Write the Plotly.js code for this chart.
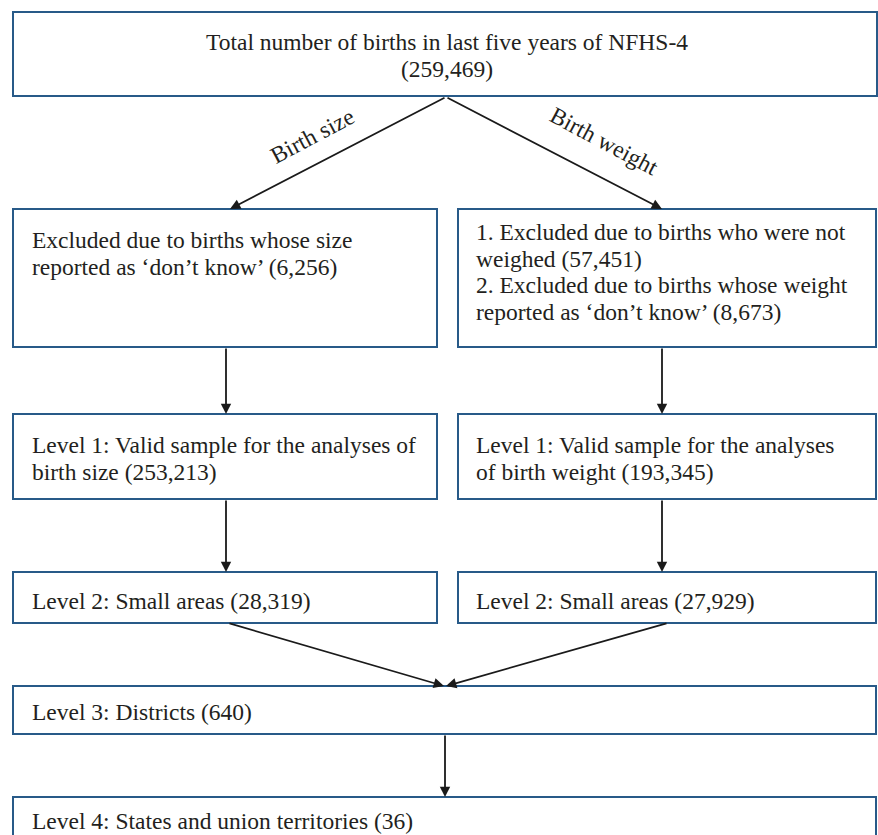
<!DOCTYPE html>
<html>
<head>
<meta charset="utf-8">
<script src="https://cdn.plot.ly/plotly-3.0.1.min.js"></script>
</head>
<body style="margin:0">
<div id="chart"></div>
<script>
// ---- Flowchart content (text and counts) ----
var topLines = ["Total number of births in last five years of NFHS-4", "(259,469)"];
var branchLabels = ["Birth size", "Birth weight"];
var leftExcluded = ["Excluded due to births whose size", "reported as \u2018don\u2019t know\u2019 (6,256)"];
var rightExcluded = ["1. Excluded due to births who were not", "weighed (57,451)", "2. Excluded due to births whose weight", "reported as \u2018don\u2019t know\u2019 (8,673)"];
var leftLevel1 = ["Level 1: Valid sample for the analyses of", "birth size (253,213)"];
var rightLevel1 = ["Level 1: Valid sample for the analyses", "of birth weight (193,345)"];
var leftLevel2 = ["Level 2: Small areas (28,319)"];
var rightLevel2 = ["Level 2: Small areas (27,929)"];
var level3 = ["Level 3: Districts (640)"];
var level4 = ["Level 4: States and union territories (36)"];

// ---- Layout geometry (pixel space) ----
var boxColor = "#285a88";
var textColor = "#231f20";
var serifFamily = "Liberation Serif";
var fontSize = 23.5;
var lineGap = 26.7;

var boxes = [
  [13, 12, 877, 96],
  [13, 209, 437, 347],
  [458, 209, 876, 347],
  [13, 414, 437, 499],
  [458, 414, 876, 499],
  [13, 572, 437, 623],
  [458, 572, 876, 623],
  [13, 686, 876, 734],
  [13, 797, 876, 860]
];
var shapeList = boxes.map(function (b) {
  return {type: "rect", xref: "x", yref: "y", x0: b[0], y0: b[1], x1: b[2], y1: b[3],
    line: {color: boxColor, width: 2}, fillcolor: "rgba(0,0,0,0)"};
});

var annList = [];
function addLines(arr, x, y0, anchor) {
  arr.forEach(function (t, i) {
    annList.push({
      x: x, y: y0 + i * lineGap, xref: "x", yref: "y", text: t, showarrow: false,
      xanchor: anchor,
      font: {family: serifFamily, size: fontSize, color: textColor}
    });
  });
}
addLines(topLines, 447, 42, "center");
addLines(leftExcluded, 30, 240, "left");
addLines(rightExcluded, 474, 232, "left");
addLines(leftLevel1, 30, 445, "left");
addLines(rightLevel1, 474, 445, "left");
addLines(leftLevel2, 30, 601, "left");
addLines(rightLevel2, 474, 601, "left");
addLines(level3, 30, 712, "left");
addLines(level4, 30, 821, "left");

annList.push({x: 312, y: 136, xref: "x", yref: "y", text: branchLabels[0], showarrow: false,
  textangle: -28, font: {family: serifFamily, size: fontSize, color: textColor}});
annList.push({x: 604, y: 141, xref: "x", yref: "y", text: branchLabels[1], showarrow: false,
  textangle: 28, font: {family: serifFamily, size: fontSize, color: textColor}});

var arrowList = [
  [446, 97, 230, 209],
  [446, 97, 662, 209],
  [226, 347, 226, 414],
  [662, 347, 662, 414],
  [226, 499, 226, 572],
  [662, 499, 662, 572],
  [228, 623, 444, 686],
  [668, 623, 446, 686],
  [445, 734, 445, 797]
];
arrowList.forEach(function (a) {
  annList.push({
    x: a[2], y: a[3], ax: a[0], ay: a[1], xref: "x", yref: "y", axref: "x", ayref: "y",
    text: "", showarrow: true, arrowhead: 2, arrowsize: 1.15, arrowwidth: 1.8, arrowcolor: "#1a1a1a", standoff: 0
  });
});

Plotly.newPlot("chart", [], {
  width: 878, height: 835,
  font: {family: serifFamily, size: fontSize, color: textColor},
  margin: {l: 0, r: 0, t: 0, b: 0},
  xaxis: {range: [0, 878], visible: false},
  yaxis: {range: [835, 0], visible: false},
  shapes: shapeList, annotations: annList, showlegend: false
}, {displayModeBar: false});
</script>
</body>
</html>
